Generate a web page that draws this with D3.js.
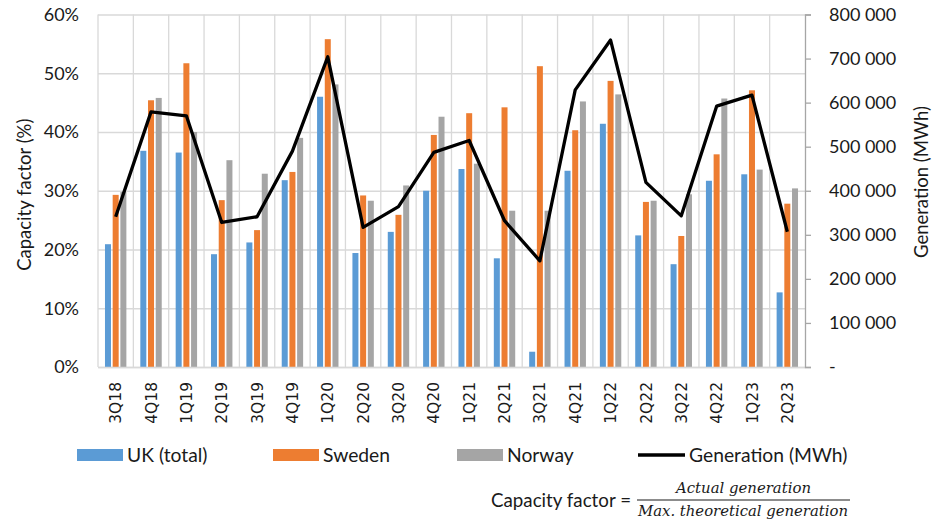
<!DOCTYPE html>
<html>
<head>
<meta charset="utf-8">
<script src="https://cdn.jsdelivr.net/npm/d3@7"></script>
<style>
  body { margin: 0; background: #fff; }
  svg { display: block; }
  text { font-family: Lato, "Open Sans", sans-serif; fill: #1a1a1a; }
</style>
</head>
<body>
<div id="chart"></div>
<script>
// quarters on the x axis
const quarters = ["3Q18","4Q18","1Q19","2Q19","3Q19","4Q19","1Q20","2Q20","3Q20","4Q20",
                  "1Q21","2Q21","3Q21","4Q21","1Q22","2Q22","3Q22","4Q22","1Q23","2Q23"];
// capacity factor (%)
const ukTotal = [20.9, 36.8, 36.5, 19.2, 21.2, 31.8, 46.0, 19.4, 23.0, 30.0,
                 33.7, 18.5, 2.6, 33.4, 41.4, 22.4, 17.5, 31.7, 32.8, 12.7];
const sweden  = [29.3, 45.4, 51.7, 28.4, 23.3, 33.2, 55.8, 29.2, 25.9, 39.5,
                 43.2, 44.2, 51.2, 40.3, 48.7, 28.1, 22.3, 36.2, 47.1, 27.8];
const norway  = [29.8, 45.8, 40.0, 35.2, 32.9, 39.0, 48.1, 28.3, 30.9, 42.6,
                 34.6, 26.6, 26.6, 45.2, 46.4, 28.3, 29.4, 45.7, 33.6, 30.4];
// generation (MWh), right axis
const generation = [341000, 579000, 570000, 328000, 341000, 490000, 704000, 317000, 364000, 487000,
                    514000, 332000, 241000, 629000, 742000, 419000, 343000, 592000, 617000, 307000];

const seriesNames = ["UK (total)", "Sweden", "Norway"];
const seriesColors = ["#5b9bd5", "#ed7d31", "#a5a5a5"];
const leftTicks = [0, 10, 20, 30, 40, 50, 60];
const rightTicks = [0, 100000, 200000, 300000, 400000, 500000, 600000, 700000, 800000];

const W = 934, H = 521;
const plot = {left: 98, right: 805, top: 14.5, bottom: 367};

const svg = d3.select("#chart").append("svg")
    .attr("width", W)
    .attr("height", H);

const rows = quarters.map((q, i) => ({q: q, vals: [ukTotal[i], sweden[i], norway[i]], gen: generation[i]}));

let x = d3.scaleBand()
    .domain(quarters)
    .range([plot.left, plot.right])
    .padding(0);

let x1 = d3.scaleBand()
    .domain([0, 1, 2])
    .range([-10.7, 10.7])
    .paddingInner(0.22);

let y = d3.scaleLinear().domain([0, 60]).range([plot.bottom, plot.top]);
let y2 = d3.scaleLinear().domain([0, 800000]).range([plot.bottom, plot.top]);

// horizontal gridlines + left labels
let gy = svg.append("g")
    .attr("transform", `translate(${plot.left},0)`)
    .call(d3.axisLeft(y).tickValues(leftTicks).tickSize(-(plot.right - plot.left)).tickPadding(19)
        .tickFormat(d => d + "%"));
gy.select(".domain").remove();
gy.selectAll("line").attr("stroke", "#d9d9d9").attr("stroke-width", 1.3);
gy.selectAll("text").style("font-size", "18px").style("font-family", "Lato, sans-serif").attr("fill", "#1a1a1a");

// vertical gridlines at category boundaries
svg.append("g")
    .selectAll("line")
    .data(quarters)
    .enter()
    .append("line")
        .attr("x1", d => x(d))
        .attr("x2", d => x(d))
        .attr("y1", plot.top)
        .attr("y2", plot.bottom)
        .attr("stroke", "#d9d9d9")
        .attr("stroke-width", 1.3);

// bars
let groups = svg.append("g")
    .selectAll("g")
    .data(rows)
    .enter()
    .append("g")
        .attr("transform", d => `translate(${x(d.q) + x.bandwidth() / 2},0)`);

groups.selectAll("rect")
    .data(d => d.vals)
    .enter()
    .append("rect")
        .attr("x", (d, i) => x1(i))
        .attr("width", x1.bandwidth())
        .attr("y", d => y(d))
        .attr("height", d => plot.bottom - y(d))
        .attr("fill", (d, i) => seriesColors[i]);

// bottom axis with rotated labels
let gx = svg.append("g")
    .attr("transform", `translate(0,${plot.bottom})`)
    .call(d3.axisBottom(x).tickSize(0));
gx.select(".domain").attr("stroke", "#d9d9d9").attr("stroke-width", 1.3);
gx.selectAll("text")
    .attr("transform", "rotate(-90)")
    .attr("x", -15)
    .attr("y", 0)
    .attr("dy", "0.36em")
    .attr("text-anchor", "end")
    .style("font-family", "'DejaVu Sans', sans-serif")
    .style("font-size", "15.5px")
    .attr("fill", "#1a1a1a");

// right axis
let gr = svg.append("g")
    .attr("transform", `translate(${plot.right},0)`)
    .call(d3.axisRight(y2).tickValues(rightTicks).tickSize(6).tickPadding(18)
        .tickFormat(d => d === 0 ? "-" : d3.format(",")(d).replace(/,/g, " ")));
gr.select(".domain").attr("stroke", "#a6a6a6").attr("stroke-width", 1.3);
gr.selectAll("line").attr("stroke", "#a6a6a6").attr("stroke-width", 1.3);
gr.selectAll("text").style("font-size", "18px").style("font-family", "Lato, sans-serif").attr("fill", "#1a1a1a");

// generation line
let line = d3.line()
    .x(d => x(d.q) + x.bandwidth() / 2)
    .y(d => y2(d.gen));

svg.append("path")
    .datum(rows)
    .attr("fill", "none")
    .attr("stroke", "#000")
    .attr("stroke-width", 3.3)
    .attr("stroke-linejoin", "round")
    .attr("d", line);

// axis titles
svg.append("text")
    .attr("transform", `translate(31,${(plot.top + plot.bottom) / 2 + 4}) rotate(-90)`)
    .attr("text-anchor", "middle")
    .style("font-size", "18.5px")
    .text("Capacity factor (%)");

svg.append("text")
    .attr("transform", `translate(928,182) rotate(-90)`)
    .attr("text-anchor", "middle")
    .style("font-size", "18.5px")
    .text("Generation (MWh)");

// legend
let legendItems = [
    {name: seriesNames[0], color: seriesColors[0], x: 77, type: "box"},
    {name: seriesNames[1], color: seriesColors[1], x: 273, type: "box"},
    {name: seriesNames[2], color: seriesColors[2], x: 457, type: "box"},
    {name: "Generation (MWh)", color: "#000", x: 638, type: "line"}
];
let legend = svg.append("g").attr("transform", "translate(0,455)");
let li = legend.selectAll("g").data(legendItems).enter().append("g")
    .attr("transform", d => `translate(${d.x},0)`);
li.filter(d => d.type === "box").append("rect")
    .attr("x", 0).attr("y", -6).attr("width", 46).attr("height", 12)
    .attr("fill", d => d.color);
li.filter(d => d.type === "line").append("line")
    .attr("x1", 0).attr("x2", 47).attr("y1", 0).attr("y2", 0)
    .attr("stroke", "#000").attr("stroke-width", 3.3);
li.append("text")
    .attr("x", d => d.type === "box" ? 50 : 51)
    .attr("dy", "0.36em")
    .style("font-size", "19.3px")
    .text(d => d.name);

// formula
let f = svg.append("g");
f.append("text")
    .attr("x", 491).attr("y", 507)
    .attr("textLength", 140).attr("lengthAdjust", "spacingAndGlyphs")
    .style("font-size", "19.5px")
    .text("Capacity factor =");
f.append("line")
    .attr("x1", 637).attr("x2", 850).attr("y1", 500).attr("y2", 500)
    .attr("stroke", "#1a1a1a").attr("stroke-width", 1.2);
f.append("text")
    .attr("x", 743.5).attr("y", 493)
    .attr("text-anchor", "middle")
    .attr("textLength", 135).attr("lengthAdjust", "spacingAndGlyphs")
    .style("font-family", "'DejaVu Serif', serif").style("font-style", "italic").style("font-size", "15px")
    .text("Actual generation");
f.append("text")
    .attr("x", 743).attr("y", 516)
    .attr("text-anchor", "middle")
    .attr("textLength", 210).attr("lengthAdjust", "spacingAndGlyphs")
    .style("font-family", "'DejaVu Serif', serif").style("font-style", "italic").style("font-size", "15px")
    .text("Max. theoretical generation");
</script>
</body>
</html>
